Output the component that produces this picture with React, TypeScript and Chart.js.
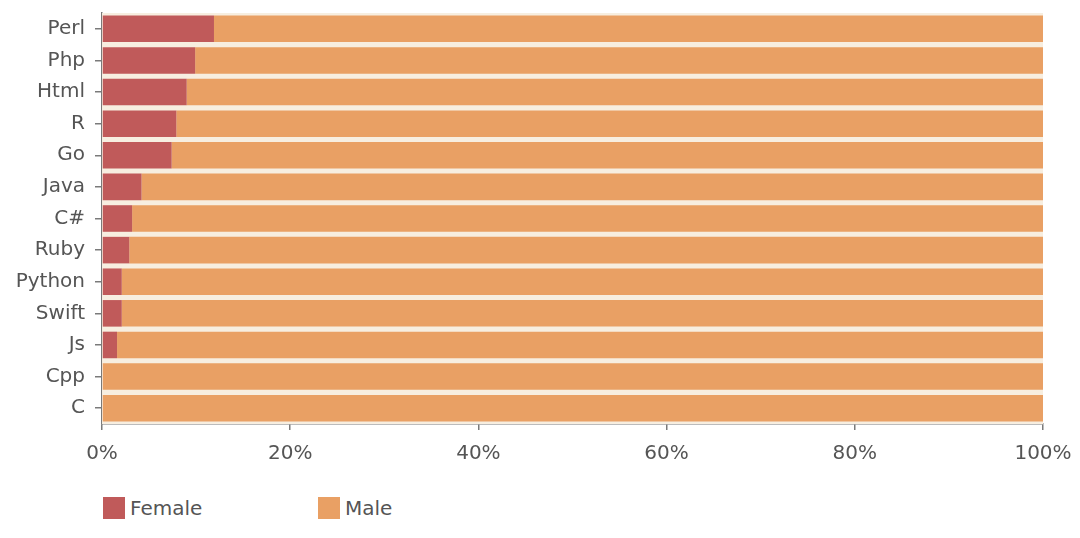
import React, { useEffect, useRef } from "react";
import { Chart, registerables } from "chart.js";

Chart.register(...registerables);

const categories = ["Perl", "Php", "Html", "R", "Go", "Java", "C#", "Ruby", "Python", "Swift", "Js", "Cpp", "C"];
const femaleValues = [11.9, 9.9, 9.0, 7.9, 7.4, 4.2, 3.2, 2.9, 2.1, 2.1, 1.6, 0, 0];
const maleValues = [88.1, 90.1, 91.0, 92.1, 92.6, 95.8, 96.8, 97.1, 97.9, 97.9, 98.4, 100, 100];
const xTicks = [0, 20, 40, 60, 80, 100];
const seriesNames = ["Female", "Male"];
const seriesColors = ["#c05a5a", "#e9a064"];

const FONT = "'DejaVu Sans', 'Open Sans', sans-serif";
const TEXT = "#555555";
const AXIS = "#7a7a7a";

const bgPlugin = {
  id: "plotBg",
  beforeDatasetsDraw(chart: any) {
    const { ctx, chartArea } = chart;
    ctx.save();
    ctx.fillStyle = "#f7eee0";
    ctx.fillRect(chartArea.left, chartArea.top, chartArea.right - chartArea.left, chartArea.bottom - chartArea.top);
    ctx.restore();
  },
};

export default function App() {
  const ref = useRef<HTMLCanvasElement>(null);
  useEffect(() => {
    if (!ref.current) return;
    const chart = new Chart(ref.current, {
      type: "bar",
      data: {
        labels: categories,
        datasets: [
          { label: seriesNames[0], data: femaleValues, backgroundColor: seriesColors[0], borderWidth: 0 },
          { label: seriesNames[1], data: maleValues, backgroundColor: seriesColors[1], borderWidth: 0 },
        ],
      },
      plugins: [bgPlugin],
      options: {
        indexAxis: "y",
        animation: false,
        responsive: false,
        maintainAspectRatio: false,
        layout: { padding: { left: 0, right: 37, top: 13, bottom: 0 } },
        datasets: { bar: { categoryPercentage: 1, barPercentage: 0.84 } },
        plugins: { legend: { display: false }, tooltip: { enabled: false } },
        scales: {
          x: {
            stacked: true,
            min: 0,
            max: 100,
            afterBuildTicks: (s: any) => {
              s.ticks = xTicks.map((v) => ({ value: v }));
            },
            afterFit: (s: any) => {
              s.height = 46;
              s.paddingLeft = 0;
              s.paddingRight = 0;
            },
            grid: { drawOnChartArea: false, drawTicks: true, tickLength: 6, color: AXIS, lineWidth: 1.5 },
            border: { display: true, color: AXIS, width: 1.5 },
            ticks: {
              padding: 12,
              color: TEXT,
              font: { family: FONT, size: 20 },
              callback: (v: any) => v + "%",
            },
          },
          y: {
            stacked: true,
            afterFit: (s: any) => {
              s.width = 102;
              s.paddingTop = 0;
              s.paddingBottom = 0;
            },
            grid: { offset: false, drawOnChartArea: false, drawTicks: true, tickLength: 7, color: AXIS, lineWidth: 1.5 },
            border: { display: true, color: AXIS, width: 1.5 },
            ticks: { padding: 10, color: TEXT, font: { family: FONT, size: 20 } },
          },
        },
      },
    });
    return () => chart.destroy();
  }, []);

  return (
    <div style={{ position: "fixed", left: 0, top: 0, width: 1080, height: 538, background: "#fff" }}>
      <canvas ref={ref} width={1080} height={470} style={{ position: "absolute", left: 0, top: 0, width: 1080, height: 470 }} />
      {seriesNames.map((name, i) => (
        <div
          key={name}
          style={{
            position: "absolute",
            left: i === 0 ? 103 : 318,
            top: 496,
            display: "flex",
            alignItems: "center",
            fontFamily: FONT,
            fontSize: 20,
            color: TEXT,
          }}
        >
          <span style={{ display: "inline-block", width: 22, height: 22, background: seriesColors[i], marginRight: 5 }} />
          <span>{name}</span>
        </div>
      ))}
    </div>
  );
}
